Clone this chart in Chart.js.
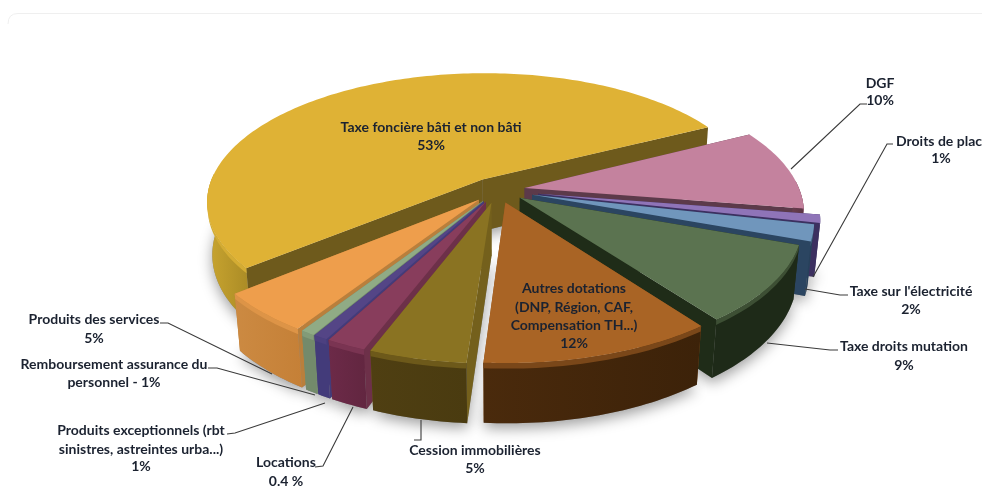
<!DOCTYPE html>
<html><head><meta charset="utf-8">
<style>html,body{margin:0;padding:0;background:#fff;overflow:hidden}canvas{display:block;filter:blur(.3px)}</style>
<script src="https://cdn.jsdelivr.net/npm/chart.js@4"></script>
</head><body><canvas id="c" width="982" height="498"></canvas>
<script>
const categories = ["Taxe foncière bâti et non bâti","DGF","Droits de place","Taxe sur l'électricité","Taxe droits mutation","Autres dotations","Cession immobilières","Locations","Produits exceptionnels","Remboursement assurance du personnel","Produits des services"];
const sliceShares = [53.5,10,1,2,9.3,11.3,4.72,1.94,0.7,0.7,4.86];
const topColors = ["#DFB235","#C4829E","#8F74B8","#7096BC","#5B7350","#A96425","#8A7322","#883D5C","#544586","#90AB85","#EE9E4C"];
const wallLeft  = ["#C9A530","#6B3F50","#3C3060","#27405A","#1E2A18","#4A2A0C","#4F3F12","#6C2A48","#433B7A","#738A6B","#CC8A42"];
const wallRight = ["#A98A25","#5A3444","#3C3060","#27405A","#1E2A18","#3C2209","#4A3B10","#622640","#433B7A","#738A6B","#C58037"];
const sideColors= ["#6E5A1C","#5C3A4A","#3C3060","#2B4561","#1F2C18","#8A521E","#74601C","#6D3049","#433B7A","#738A6B","#B97F3C"];
const explodeBySlice = [.1,.1,.15,.13,.1,.1,.1,.1,.1,.1,.1];
const dataLabels = [
 {a:"center",x:431,y:127,t:"Taxe foncière bâti et non bâti"},{a:"center",x:431,y:145,t:"53%"},
 {a:"center",x:880,y:83,t:"DGF"},{a:"center",x:880,y:100,t:"10%"},
 {a:"left",x:896,y:141,t:"Droits de place"},{a:"center",x:941,y:158,t:"1%"},
 {a:"center",x:911,y:291,t:"Taxe sur l'électricité"},{a:"center",x:911,y:309,t:"2%"},
 {a:"center",x:904,y:346,t:"Taxe droits mutation"},{a:"center",x:904,y:365,t:"9%"},
 {a:"center",x:574,y:288,t:"Autres dotations"},{a:"center",x:574,y:307,t:"(DNP, Région, CAF,"},{a:"center",x:574,y:325,t:"Compensation TH...)"},{a:"center",x:574,y:343,t:"12%"},
 {a:"center",x:475,y:450,t:"Cession immobilières"},{a:"center",x:475,y:468,t:"5%"},
 {a:"center",x:286,y:462,t:"Locations"},{a:"center",x:286,y:481,t:"0.4 %"},
 {a:"center",x:141,y:430,t:"Produits exceptionnels (rbt"},{a:"center",x:141,y:449,t:"sinistres, astreintes urba...)"},{a:"center",x:141,y:466,t:"1%"},
 {a:"center",x:114,y:364,t:"Remboursement assurance du"},{a:"center",x:114,y:382,t:"personnel - 1%"},
 {a:"center",x:94,y:319,t:"Produits des services"},{a:"center",x:94,y:338,t:"5%"}
];
const leaders = [
 [[867,104],[860,104],[791,169]],
 [[893,144],[887,144],[813,277]],
 [[848,295],[840,295],[805,289]],
 [[838,350],[830,350],[767,343]],
 [[414,440],[421,440],[421,420]],
 [[315,467],[323,466],[353,407]],
 [[227,434],[235,433],[325,403]],
 [[208,368],[217,368],[315,395]],
 [[160,323],[168,323],[272,374]]
];
const view = {cx:497.5,cy:190,R:275,A:128,D:53,k:.173,m:.018,startDeg:140.5};
function proj(wx,wy,z){const w=1-view.k*wy+view.m*z;return [view.cx+view.R*wx/w,view.cy+(view.A*wy+view.D*z)/w];}
function poly(ctx,pts){ctx.beginPath();pts.forEach((p,i)=>i?ctx.lineTo(p[0],p[1]):ctx.moveTo(p[0],p[1]));ctx.closePath();}
function mix(a,b){const p=s=>[1,3,5].map(i=>parseInt(s.substr(i,2),16));const A=p(a),B=p(b);return `rgb(${A.map((v,i)=>Math.round((v+B[i])/2)).join(",")})`;}
function geom(arc,idx){
  const s=arc.startAngle,e=arc.endAngle,mid=(s+e)/2,ex=explodeBySlice[idx];
  const ox=ex*Math.cos(mid),oy=ex*Math.sin(mid);
  const n=Math.max(4,Math.ceil((e-s)/0.02));
  const rim=[],front=[];
  for(let i=0;i<=n;i++){const a=s+(e-s)*i/n,pt=[ox+Math.cos(a),oy+Math.sin(a)];rim.push(pt);if(Math.sin(a)>-0.06)front.push(pt);}
  return {ox,oy,rim,front,midY:Math.sin(mid)};
}
const pie3d = {
  id:"pie3d",
  beforeDatasetDraw(chart){
    const ctx=chart.ctx;
    const arcs=chart.getDatasetMeta(0).data;
    ctx.save();ctx.strokeStyle="#efefef";ctx.lineWidth=1;ctx.beginPath();ctx.moveTo(8,24);ctx.quadraticCurveTo(8,13.5,18,13.5);ctx.lineTo(982,13.5);ctx.stroke();ctx.restore();
    const items=arcs.map((arc,i)=>({i,g:geom(arc,i)})).sort((a,b)=>a.g.midY-b.g.midY);
    const T=z=>p=>proj(p[0],p[1],z);
    ctx.save();ctx.shadowColor="rgba(0,0,0,.38)";ctx.shadowBlur=14;ctx.shadowOffsetY=5;ctx.fillStyle="#888";
    items.forEach(({g})=>{poly(ctx,[proj(g.ox,g.oy,1),...g.rim.map(T(1))]);ctx.fill();});
    ctx.restore();
    ctx.save();ctx.fillStyle="#fff";
    items.forEach(({g})=>{poly(ctx,[proj(g.ox,g.oy,0),...g.rim.map(T(0))]);ctx.fill();});
    ctx.restore();
    items.forEach(({i,g})=>{
      const a=g.rim[0],b=g.rim[g.rim.length-1];
      ctx.fillStyle=sideColors[i];
      [a,b].forEach(c=>{poly(ctx,[proj(g.ox,g.oy,0),proj(c[0],c[1],0),proj(c[0],c[1],1),proj(g.ox,g.oy,1)]);ctx.fill();});
      if(g.front.length>1){
        const top=g.front.map(T(0)),bot=g.front.map(T(1));
        const xs=top.concat(bot).map(p=>p[0]),x0=Math.min(...xs),x1=Math.max(...xs);
        const gr=ctx.createLinearGradient(x0,0,x1,0);gr.addColorStop(0,wallLeft[i]);gr.addColorStop(1,wallRight[i]);
        ctx.fillStyle=gr;poly(ctx,top.concat(bot.slice().reverse()));ctx.fill();
        const bev=g.front.map(T(.09));
        ctx.fillStyle=mix(topColors[i],wallLeft[i]);poly(ctx,top.concat(bev.slice().reverse()));ctx.fill();
      }
      ctx.fillStyle=topColors[i];poly(ctx,[proj(g.ox,g.oy,0),...g.rim.map(T(0))]);ctx.fill();
    });
    ctx.save();ctx.strokeStyle="#3a3a3a";ctx.lineWidth=1.1;
    leaders.forEach(l=>{ctx.beginPath();l.forEach((p,j)=>j?ctx.lineTo(p[0],p[1]):ctx.moveTo(p[0],p[1]));ctx.stroke();});
    ctx.restore();
    ctx.save();ctx.font='700 14px Lato';ctx.fillStyle="#1b2230";ctx.textBaseline="middle";
    dataLabels.forEach(d=>{ctx.textAlign=d.a;ctx.fillText(d.t,d.x,d.y);});
    ctx.restore();
    return false;
  }
};
new Chart(document.getElementById("c"),{
  type:"pie",
  data:{labels:categories,datasets:[{data:sliceShares,backgroundColor:topColors}]},
  options:{responsive:false,animation:false,rotation:view.startDeg+90,
    plugins:{legend:{display:false},tooltip:{enabled:false}}},
  plugins:[pie3d]
});
</script></body></html>
